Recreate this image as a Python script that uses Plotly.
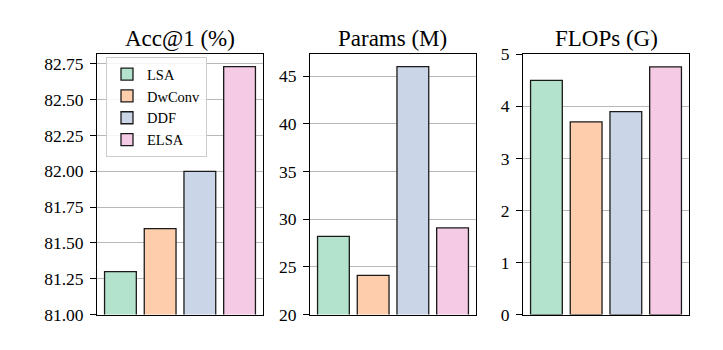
import plotly.graph_objects as go

methods = ["LSA", "DwConv", "DDF", "ELSA"]
colors = ["#b3e2cd", "#fdcdac", "#cbd5e8", "#f4cae4"]
acc = [81.30, 81.60, 82.00, 82.73]
params = [28.2, 24.1, 46.0, 29.1]
flops = [4.50, 3.70, 3.90, 4.76]

titles = ["Acc@1 (%)", "Params (M)", "FLOPs (G)"]
datasets = [acc, params, flops]
yranges = [[81.0, 82.8165], [20, 47.3], [0, 5.0]]
ytickvals = [[81.0, 81.25, 81.5, 81.75, 82.0, 82.25, 82.5, 82.75],
             [20, 25, 30, 35, 40, 45],
             [0, 1, 2, 3, 4, 5]]
ytickfmt = [".2f", "d", "d"]

W, H = 723, 350
xdom_px = [(97, 263), (310, 476), (523, 689)]
ydom = [(H - 323) / H, (H - 47) / H]
FONT = "Liberation Serif"

fig = go.Figure()
for k, vals in enumerate(datasets):
    xa = "x" if k == 0 else f"x{k+1}"
    ya = "y" if k == 0 else f"y{k+1}"
    for i, m in enumerate(methods):
        fig.add_trace(go.Bar(
            x=[i], y=[vals[i]], name=m, width=0.8,
            marker=dict(color=colors[i], line=dict(color="#1a1a1a", width=1.3)),
            xaxis=xa, yaxis=ya, legendgroup=m, showlegend=(k == 0),
        ))

layout = dict(
    width=W, height=H, margin=dict(l=0, r=0, t=0, b=0),
    paper_bgcolor="white", plot_bgcolor="white",
    font=dict(family=FONT, color="black"),
    barmode="overlay",
    legend=dict(x=106 / W, y=(H - 50) / H, xanchor="left", yanchor="top",
                bordercolor="#cccccc", borderwidth=1, bgcolor="rgba(255,255,255,0.85)",
                font=dict(family=FONT, size=14.5), tracegroupgap=0),
    annotations=[],
)
for k in range(3):
    xkey = "xaxis" if k == 0 else f"xaxis{k+1}"
    ykey = "yaxis" if k == 0 else f"yaxis{k+1}"
    x0, x1 = xdom_px[k]
    layout[xkey] = dict(domain=[x0 / W, x1 / W], range=[-0.59, 3.59],
                        showticklabels=False, ticks="", showgrid=False, zeroline=False,
                        showline=True, linecolor="black", linewidth=1, mirror=True,
                        anchor="y" if k == 0 else f"y{k+1}", fixedrange=True)
    layout[ykey] = dict(domain=ydom, range=yranges[k], tickvals=ytickvals[k],
                        tickformat=ytickfmt[k], ticks="outside", ticklen=6,
                        ticklabelstandoff=3,
                        tickcolor="black", tickfont=dict(family=FONT, size=17.5),
                        showgrid=True, gridcolor="#b8b8b8", gridwidth=1, zeroline=False,
                        showline=True, linecolor="black", linewidth=1, mirror=True,
                        anchor="x" if k == 0 else f"x{k+1}", fixedrange=True)
    layout["annotations"].append(dict(
        text=titles[k], x=(x0 + x1) / 2 / W, y=(H - 30) / H, xref="paper", yref="paper",
        showarrow=False, font=dict(family=FONT, size=23), xanchor="center", yanchor="middle"))

fig.update_layout(**layout)
fig.write_html("out.html")
